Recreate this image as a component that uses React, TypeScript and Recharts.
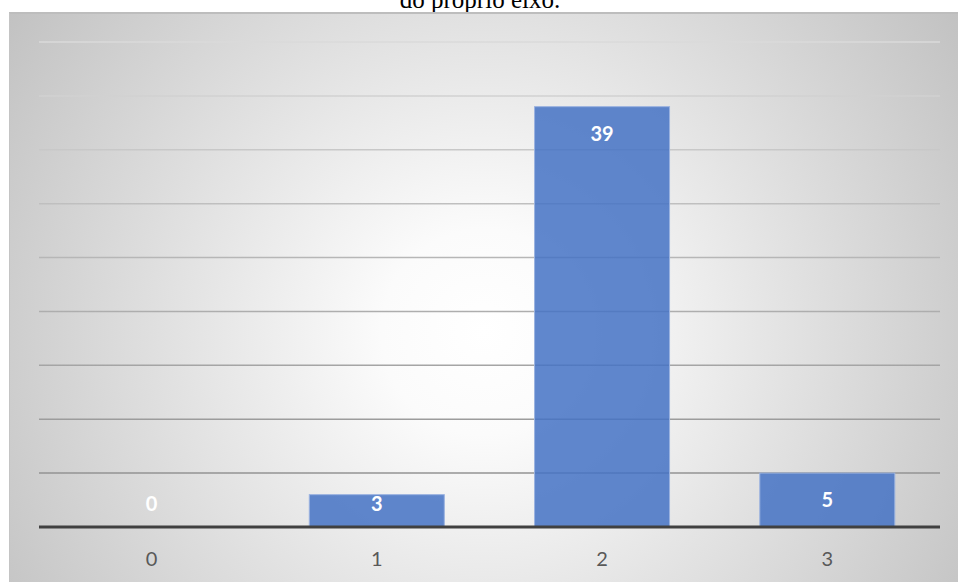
import React from "react";
import { BarChart, Bar, XAxis, YAxis, CartesianGrid } from "recharts";

// Answer categories and how many responses each received
const categories = ["0", "1", "2", "3"];
const counts = [0, 3, 39, 5];
const valueTicks = [0, 5, 10, 15, 20, 25, 30, 35, 40, 45];

const data = categories.map((name, i) => ({ name, count: counts[i] }));

const FONT = "Lato, 'Open Sans', sans-serif";

// Bar body plus its value label, placed inside the top of the bar and kept
// above the axis for short (or empty) bars
const BarWithLabel = (props: any) => {
  const { x, y, width, height, value } = props;
  const v = Array.isArray(value) ? value[1] - value[0] : value;
  const bottom = y + height;
  const cy = Math.min(y + 26, bottom - 24);
  return (
    <g>
      {height > 0 && (
        <rect
          x={x}
          y={y}
          width={width}
          height={height}
          fill="#4472C4"
          fillOpacity={0.85}
          stroke="#9ab2e0"
          strokeWidth={1}
        />
      )}
      <text
        x={x + width / 2}
        y={cy}
        textAnchor="middle"
        dominantBaseline="central"
        fill="#ffffff"
        fontFamily={FONT}
        fontWeight={700}
        fontSize={20}
      >
        {v}
      </text>
    </g>
  );
};

export default function App() {
  return (
    <div
      style={{
        position: "fixed",
        left: 0,
        top: 0,
        width: 958,
        height: 582,
        background: "#ffffff",
        overflow: "hidden",
      }}
    >
      <svg width={958} height={582} style={{ position: "absolute", left: 0, top: 0 }}>
        <text
          x={480}
          y={8}
          textAnchor="middle"
          fontFamily="'Liberation Serif', 'Times New Roman', serif"
          fontSize={25}
          fill="#000000"
        >
          do próprio eixo.
        </text>
      </svg>
      <svg width={0} height={0} style={{ position: "absolute" }}>
        <defs>
          <linearGradient id="gridFade" gradientUnits="userSpaceOnUse" x1={0} y1={30} x2={0} y2={515}>
            <stop offset="0%" stopColor="#dadada" />
            <stop offset="100%" stopColor="#8a8a8a" />
          </linearGradient>
        </defs>
      </svg>
      <div
        style={{
          position: "absolute",
          left: 9,
          top: 12,
          width: 949,
          height: 580,
          boxSizing: "border-box",
          borderTop: "2px solid #bdbdbd",
          borderLeft: "1px solid #c4c4c4",
          background:
            "radial-gradient(circle farthest-corner at 50% 55%, #ffffff 0%, #fbfbfb 18%, #c2c2c2 100%)",
        }}
      />
      <div style={{ position: "absolute", left: 9, top: 12 }}>
        <BarChart
          width={949}
          height={570}
          data={data}
          margin={{ top: 30, right: 18, bottom: 0, left: 30 }}
          barCategoryGap="20%"
        >
          <CartesianGrid vertical={false} stroke="url(#gridFade)" strokeWidth={1.5} />
          <YAxis hide domain={[0, 45]} ticks={valueTicks} />
          <XAxis
            dataKey="name"
            height={55}
            tickLine={false}
            tickSize={0}
            tickMargin={25}
            axisLine={{ stroke: "#404040", strokeWidth: 3 }}
            tick={{ fill: "#595959", fontSize: 20, fontFamily: FONT }}
          />
          <Bar
            dataKey="count"
            fill="#4472C4"
            shape={BarWithLabel}
            isAnimationActive={false}
          />
        </BarChart>
      </div>
    </div>
  );
}
